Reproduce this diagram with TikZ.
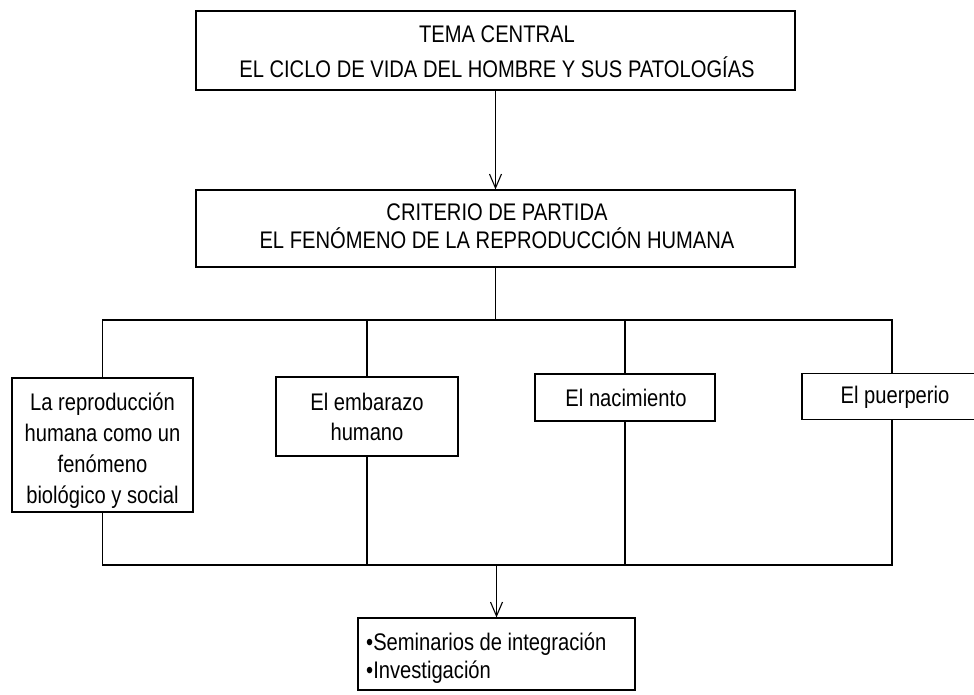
\documentclass[tikz,border=0pt]{standalone}
\usepackage{fontspec}
\newfontfamily\cf[FakeStretch=0.84]{Liberation Sans}
\usetikzlibrary{arrows.meta}
\begin{document}
\begin{tikzpicture}[x=1pt,y=-1pt,
  frame/.style={draw, line width=1.2pt, inner sep=0pt},
  txt/.style={inner sep=0pt, align=center, anchor=base, font=\cf\fontsize{24}{#1}\selectfont},
  conn/.style={line width=1.1pt},
  arr/.style={line width=1.1pt, -{Straight Barb[length=14pt,width=12pt,line width=1.1pt]}}]
\useasboundingbox (0,0) rectangle (974,695);
\clip (0,0) rectangle (974,695);
\fill[white] (0,0) rectangle (974,695);

\node[frame, minimum width=599pt, minimum height=79pt] (tema) at (495.5,50.5) {};
\node[txt=35] (tematxt) at (497,78) {TEMA CENTRAL\\EL CICLO DE VIDA DEL HOMBRE Y SUS PATOLOGÍAS};

\node[frame, minimum width=599pt, minimum height=77pt] (crit) at (495.5,228.5) {};
\node[txt=28] (crittxt) at (497,248) {CRITERIO DE PARTIDA\\EL FENÓMENO DE LA REPRODUCCIÓN HUMANA};

\node[frame, minimum width=181pt, minimum height=134pt] (b1) at (102.5,445) {};
\node[txt=31] (b1txt) at (102.5,503) {La reproducción\\humana como un\\fenómeno\\biológico y social};

\node[frame, minimum width=182pt, minimum height=79pt] (b2) at (367,416.5) {};
\node[txt=30] (b2txt) at (367,440) {El embarazo\\humano};

\node[frame, minimum width=180pt, minimum height=47pt] (b3) at (625,397.5) {};
\node[txt=30] (b3txt) at (626,406) {El nacimiento};

\node[frame, minimum width=180pt, minimum height=46pt] (b4) at (892,396.5) {};
\node[txt=30] (b4txt) at (895,403) {El puerperio};

\node[frame, minimum width=277pt, minimum height=72pt] (fin) at (496.5,654) {};
\node[txt=28, align=left, anchor=base west] (fintxt) at (366,678) {•Seminarios de integración\\•Investigación};

\coordinate (topbus) at (0,320);
\coordinate (botbus) at (0,565);

\draw[arr] (tema.south) -- (crit.north);
\draw[conn] (crit.south) -- (crit.south |- topbus);
\draw[conn] (b1.north) -- (b1.north |- topbus) -- (b4.north |- topbus) -- (b4.north);
\draw[conn] (b2.north) -- (b2.north |- topbus);
\draw[conn] (b3.north) -- (b3.north |- topbus);

\draw[conn] (b1.south) -- (b1.south |- botbus) -- (b4.south |- botbus) -- (b4.south);
\draw[conn] (b2.south) -- (b2.south |- botbus);
\draw[conn] (b3.south) -- (b3.south |- botbus);
\draw[arr] (fin.north |- botbus) -- (fin.north);
\end{tikzpicture}
\end{document}
